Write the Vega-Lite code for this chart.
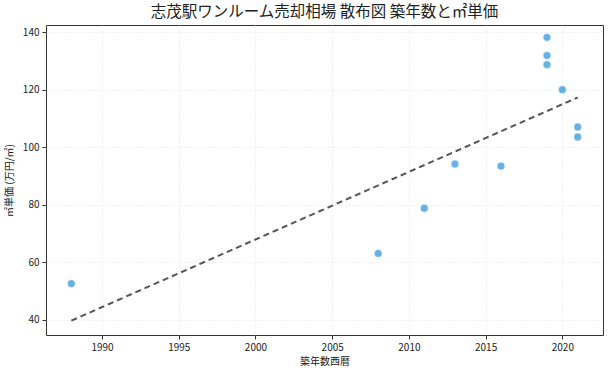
{
  "$schema": "https://vega.github.io/schema/vega-lite/v6.json",
  "width": 557,
  "height": 310,
  "autosize": "none",
  "padding": {"left": 46, "top": 25, "right": 7, "bottom": 40},
  "background": "white",
  "title": {
    "text": "志茂駅ワンルーム売却相場 散布図 築年数と㎡単価",
    "font": "Noto Sans CJK JP",
    "fontSize": 15.5,
    "fontWeight": "normal",
    "color": "#222222",
    "anchor": "middle",
    "offset": 5
  },
  "config": {
    "view": {"stroke": "#333333", "strokeWidth": 1},
    "axis": {
      "labelFont": "Noto Sans CJK JP",
      "titleFont": "Noto Sans CJK JP",
      "labelFontSize": 10,
      "titleFontSize": 10,
      "titleFontWeight": "normal",
      "labelColor": "#222222",
      "titleColor": "#222222",
      "domain": false,
      "tickColor": "#333333",
      "tickSize": 4,
      "grid": true,
      "gridColor": "#dddddd",
      "gridDash": [1, 2],
      "gridWidth": 0.8
    }
  },
  "data": {
    "values": [
      {"year": 1988, "price": 52.6},
      {"year": 2008, "price": 63.1},
      {"year": 2011, "price": 78.8},
      {"year": 2013, "price": 94.2},
      {"year": 2016, "price": 93.5},
      {"year": 2019, "price": 138.3},
      {"year": 2019, "price": 132.0},
      {"year": 2019, "price": 128.8},
      {"year": 2020, "price": 120.1},
      {"year": 2021, "price": 107.1},
      {"year": 2021, "price": 103.6}
    ]
  },
  "layer": [
    {
      "mark": {"type": "point", "filled": true, "size": 62, "color": "#3498db", "opacity": 0.75, "stroke": "white", "strokeWidth": 0.5},
      "encoding": {
        "x": {
          "field": "year", "type": "quantitative",
          "scale": {"domain": [1986.35, 2022.65], "nice": false, "zero": false},
          "axis": {"values": [1990, 1995, 2000, 2005, 2010, 2015, 2020], "format": "d", "title": "築年数西暦", "titlePadding": 4, "labelPadding": 3}
        },
        "y": {
          "field": "price", "type": "quantitative",
          "scale": {"domain": [34.7, 142.6], "nice": false, "zero": false},
          "axis": {"values": [40, 60, 80, 100, 120, 140], "title": "㎡単価 (万円/㎡)", "titlePadding": 8, "labelPadding": 3}
        }
      }
    },
    {
      "transform": [{"regression": "price", "on": "year"}],
      "mark": {"type": "line", "color": "#555555", "strokeWidth": 2, "strokeDash": [6, 4]},
      "encoding": {
        "x": {"field": "year", "type": "quantitative"},
        "y": {"field": "price", "type": "quantitative"}
      }
    }
  ]
}
